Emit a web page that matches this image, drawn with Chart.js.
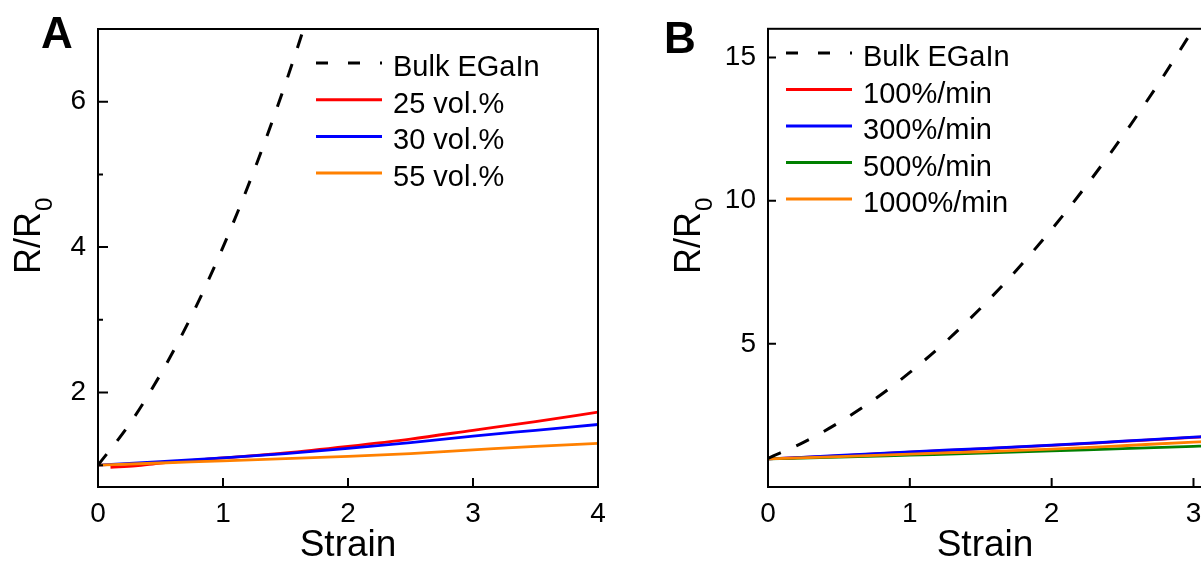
<!DOCTYPE html>
<html lang="en">
<head>
<meta charset="UTF-8">
<title>R/R0 vs Strain</title>
<script src="https://cdn.jsdelivr.net/npm/chart.js"></script>
<style>
    * { margin: 0; padding: 0; box-sizing: border-box; }
    html, body { width: 1201px; height: 564px; overflow: hidden; background: #fff; }
    body { position: relative; font-family: 'Liberation Sans', Arial, sans-serif; }
    .panel { position: absolute; top: 0; height: 564px; width: 620px; }
    #panelA { left: 0; }
    #panelB { left: 620px; }
    .tag { position: absolute; font-weight: bold; font-size: 44px; line-height: 44px; color: #000; }
</style>
</head>
<body>
<div class="panel" id="panelA"><canvas id="chartA"></canvas></div>
<div class="panel" id="panelB"><canvas id="chartB"></canvas></div>
<div class="tag" style="left:41px; top:11px;">A</div>
<div class="tag" style="left:664px; top:16px;">B</div>

<script>
// ---- panel A : filler content ----
const bulkStrainA = [0, 0.25, 0.5, 0.75, 1, 1.25, 1.5, 1.75];
const bulkA       = [1.0, 1.56, 2.25, 3.06, 4.0, 5.06, 6.25, 7.56];
const redStrainA  = [0.1, 0.3, 0.5, 1, 1.5, 2, 2.5, 3, 3.5, 4];
const vol25       = [0.97, 0.99, 1.03, 1.10, 1.17, 1.26, 1.36, 1.48, 1.60, 1.73];
const strainA     = [0, 0.5, 1, 1.5, 2, 2.5, 3, 3.5, 4];
const vol30       = [1.0, 1.05, 1.10, 1.16, 1.23, 1.31, 1.40, 1.48, 1.56];
const vol55       = [1.0, 1.03, 1.06, 1.09, 1.12, 1.16, 1.21, 1.26, 1.30];
const xTicksA = [0, 1, 2, 3, 4];
const yTicksA = [2, 4, 6];
const yMinorA = [1, 3, 5];

// ---- panel B : strain rate ----
const bulkStrainB = [0, 0.25, 0.5, 0.75, 1, 1.25, 1.5, 1.75, 2, 2.25, 2.5, 2.75, 3, 3.1];
const bulkB       = [1.0, 1.56, 2.25, 3.06, 4.0, 5.06, 6.25, 7.56, 9.0, 10.56, 12.25, 14.06, 16.0, 16.8];
const strainB  = [0, 0.5, 1, 1.5, 2, 2.5, 3, 3.06];
const rate100  = [0.98, 1.09, 1.22, 1.33, 1.45, 1.59, 1.73, 1.75];
const rate300  = [0.98, 1.10, 1.23, 1.34, 1.46, 1.60, 1.74, 1.76];
const rate500  = [0.98, 1.04, 1.11, 1.18, 1.26, 1.34, 1.42, 1.43];
const rate1000 = [0.98, 1.06, 1.15, 1.23, 1.32, 1.44, 1.57, 1.58];
const xTicksB = [0, 1, 2, 3];
const yTicksB = [5, 10, 15];

const FONT = "'Liberation Sans', Arial, sans-serif";

function pts(xs, ys) {
    return xs.map((x, i) => ({ x: x, y: ys[i] }));
}

function line(label, xs, ys, color, order, dashed) {
    return {
        label: label,
        data: pts(xs, ys),
        borderColor: color,
        borderWidth: dashed ? 3 : 2.8,
        borderDash: dashed ? [14, 17] : [],
        pointRadius: 0,
        cubicInterpolationMode: 'monotone',
        order: order
    };
}

// frame, inward ticks, legend and y title with subscript
const decor = {
    id: 'decor',
    afterDatasetsDraw(chart, args, o) {
        const { ctx, chartArea: a, scales } = chart;
        ctx.save();
        ctx.strokeStyle = '#000';
        ctx.lineWidth = 2;
        ctx.strokeRect(a.left, a.top, a.right - a.left, a.bottom - a.top);

        ctx.beginPath();
        o.xMarks.forEach(v => {
            const px = scales.x.getPixelForValue(v);
            ctx.moveTo(px, a.bottom);
            ctx.lineTo(px, a.bottom - o.xLen);
        });
        o.yMarks.forEach(v => {
            const py = scales.y.getPixelForValue(v);
            ctx.moveTo(a.left, py);
            ctx.lineTo(a.left + o.yLen, py);
        });
        o.yMinor.forEach(v => {
            const py = scales.y.getPixelForValue(v);
            ctx.moveTo(a.left, py);
            ctx.lineTo(a.left + o.minorLen, py);
        });
        ctx.stroke();

        // legend
        const lg = o.legend;
        ctx.font = '29px ' + FONT;
        ctx.textAlign = 'left';
        ctx.textBaseline = 'alphabetic';
        chart.data.datasets.forEach((ds, i) => {
            const y = lg.y + i * lg.step;
            ctx.beginPath();
            ctx.strokeStyle = ds.borderColor;
            ctx.lineWidth = 3;
            ctx.setLineDash(ds.borderDash.length ? [12, 20] : []);
            ctx.moveTo(lg.x, y);
            ctx.lineTo(lg.x + lg.w, y);
            ctx.stroke();
            ctx.setLineDash([]);
            ctx.fillStyle = '#000';
            ctx.fillText(ds.label, lg.textX, y + 13);
        });

        // y title R/R0
        const t = o.yTitle;
        ctx.translate(t.x, t.y);
        ctx.rotate(-Math.PI / 2);
        ctx.fillStyle = '#000';
        ctx.font = '36px ' + FONT;
        ctx.fillText('R/R', 0, 0);
        const w = ctx.measureText('R/R').width;
        ctx.font = '24px ' + FONT;
        ctx.fillText('0', w + 1, 12);
        ctx.restore();
    }
};

function makeOptions(cfg) {
    return {
        responsive: true,
        maintainAspectRatio: false,
        animation: false,
        layout: { padding: { top: cfg.top, right: cfg.right, left: 0, bottom: 0 } },
        plugins: {
            legend: { display: false },
            tooltip: { enabled: false },
            decor: cfg.decor
        },
        scales: {
            x: {
                type: 'linear',
                min: cfg.xMin,
                max: cfg.xMax,
                afterFit: s => { s.height = 77; },
                afterBuildTicks: s => { s.ticks = cfg.xTicks.map(v => ({ value: v })); },
                grid: { display: false, drawTicks: false },
                border: { display: false },
                ticks: { font: { size: 28, family: FONT }, color: '#000', padding: 10, autoSkip: false, maxRotation: 0 },
                title: { display: true, text: 'Strain', color: '#000', padding: 0,
                         font: { size: 37, family: FONT, lineHeight: 1 } }
            },
            y: {
                type: 'linear',
                min: cfg.yMin,
                max: cfg.yMax,
                afterFit: s => { s.width = cfg.yWidth; },
                afterBuildTicks: s => { s.ticks = cfg.yTicks.map(v => ({ value: v })); },
                grid: { display: false, drawTicks: false },
                border: { display: false },
                ticks: { font: { size: 28, family: FONT }, color: '#000', padding: 12 }
            }
        }
    };
}

new Chart(document.getElementById('chartA'), {
    type: 'line',
    data: {
        datasets: [
            line('Bulk EGaIn', bulkStrainA, bulkA, '#000000', 0, true),
            line('25 vol.%', redStrainA, vol25, '#ff0000', 3),
            line('30 vol.%', strainA, vol30, '#0000ff', 2),
            line('55 vol.%', strainA, vol55, '#ff8000', 1)
        ]
    },
    options: makeOptions({
        top: 29, right: 22, yWidth: 98,
        xMin: 0, xMax: 4, yMin: 0.7, yMax: 7,
        xTicks: xTicksA, yTicks: yTicksA,
        decor: {
            xMarks: [1, 2, 3], xLen: 9,
            yMarks: yTicksA, yLen: 10,
            yMinor: yMinorA, minorLen: 5,
            legend: { x: 316, y: 63, step: 36.7, w: 66, textX: 393 },
            yTitle: { x: 40, y: 274 }
        }
    }),
    plugins: [decor]
});

new Chart(document.getElementById('chartB'), {
    type: 'line',
    data: {
        datasets: [
            line('Bulk EGaIn', bulkStrainB, bulkB, '#000000', 0, true),
            line('100%/min', strainB, rate100, '#ff0000', 4),
            line('300%/min', strainB, rate300, '#0000ff', 3),
            line('500%/min', strainB, rate500, '#008000', 2),
            line('1000%/min', strainB, rate1000, '#ff8000', 1)
        ]
    },
    options: makeOptions({
        top: 24, right: 38, yWidth: 148,
        xMin: 0, xMax: 3.06, yMin: 0, yMax: 16,
        xTicks: xTicksB, yTicks: yTicksB,
        decor: {
            xMarks: [1, 2, 3], xLen: 9,
            yMarks: yTicksB, yLen: 8,
            yMinor: [], minorLen: 0,
            legend: { x: 166, y: 53, step: 36.5, w: 66, textX: 243 },
            yTitle: { x: 80, y: 274 }
        }
    }),
    plugins: [decor]
});
</script>
</body>
</html>
